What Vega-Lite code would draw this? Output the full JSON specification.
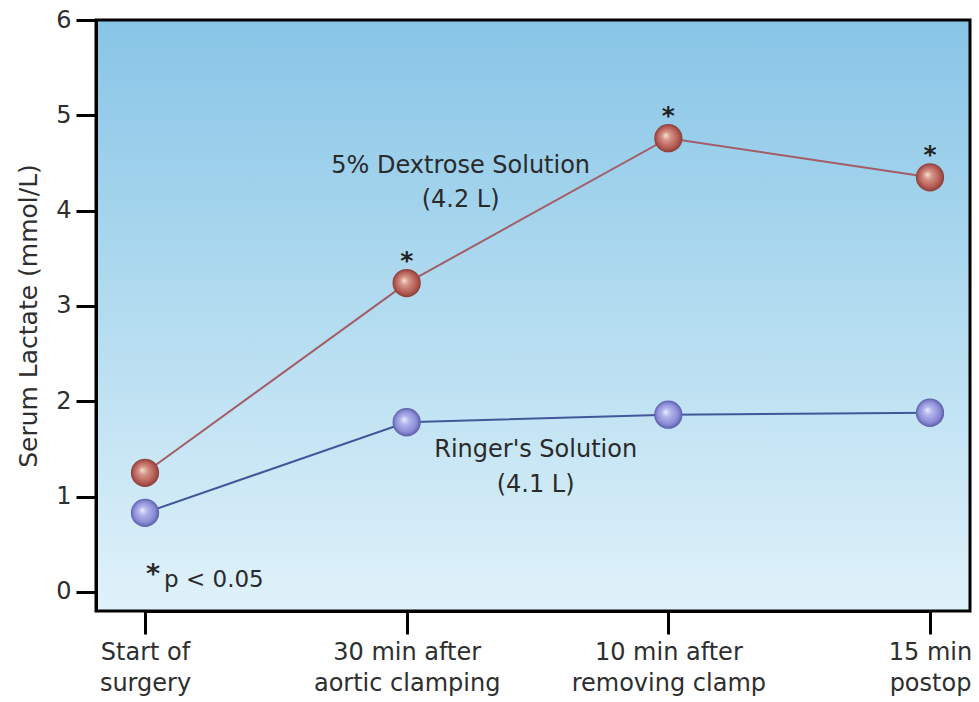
{
  "$schema": "https://vega.github.io/schema/vega-lite/v6.json",
  "width": 874,
  "height": 591,
  "autosize": "none",
  "padding": {"left": 96, "top": 20, "right": 9, "bottom": 91},
  "background": "white",
  "config": {
    "font": "DejaVu Sans",
    "view": {
      "stroke": "black",
      "strokeWidth": 3,
      "fill": {"gradient": "linear", "x1": 0, "y1": 0, "x2": 0, "y2": 1,
        "stops": [{"offset": 0, "color": "#88c5e7"}, {"offset": 0.5, "color": "#b3dcf0"}, {"offset": 1, "color": "#e0f2fa"}]}
    }
  },
  "datasets": {
    "lactate": [
      {"time": "Start of\nsurgery", "series": "5% Dextrose Solution", "value": 1.25, "sig": ""},
      {"time": "30 min after\naortic clamping", "series": "5% Dextrose Solution", "value": 3.24, "sig": "*"},
      {"time": "10 min after\nremoving clamp", "series": "5% Dextrose Solution", "value": 4.76, "sig": "*"},
      {"time": "15 min\npostop", "series": "5% Dextrose Solution", "value": 4.35, "sig": "*"},
      {"time": "Start of\nsurgery", "series": "Ringer's Solution", "value": 0.83, "sig": ""},
      {"time": "30 min after\naortic clamping", "series": "Ringer's Solution", "value": 1.78, "sig": ""},
      {"time": "10 min after\nremoving clamp", "series": "Ringer's Solution", "value": 1.86, "sig": ""},
      {"time": "15 min\npostop", "series": "Ringer's Solution", "value": 1.88, "sig": ""}
    ],
    "notes": [
      {"id": "dextrose", "time": "30 min after\naortic clamping", "value": 4.40, "label": "5% Dextrose Solution\n(4.2 L)"},
      {"id": "ringer", "time": "30 min after\naortic clamping", "value": 1.42, "label": "Ringer's Solution\n(4.1 L)"},
      {"id": "p", "time": "Start of\nsurgery", "value": 0.05, "label": "p < 0.05"},
      {"id": "pstar", "time": "Start of\nsurgery", "value": 0.05, "label": "*"}
    ]
  },
  "encoding": {
    "x": {
      "field": "time",
      "type": "ordinal",
      "sort": null,
      "scale": {"type": "point", "domain": ["Start of\nsurgery", "30 min after\naortic clamping", "10 min after\nremoving clamp", "15 min\npostop"], "range": [49, 834], "padding": 0},
      "axis": {
        "title": null,
        "labelExpr": "split(datum.label, '\\n')",
        "labelAngle": 0,
        "labelFontSize": 24,
        "labelLineHeight": 31,
        "labelLimit": 0,
        "labelColor": "#2e2e2e",
        "labelPadding": 6,
        "labelBaseline": "top",
        "tickSize": 23,
        "tickWidth": 3,
        "tickColor": "black",
        "domainColor": "black",
        "domainWidth": 3,
        "grid": false
      }
    },
    "y": {
      "field": "value",
      "type": "quantitative",
      "scale": {"domain": [-0.2, 6], "nice": false, "zero": false},
      "axis": {
        "title": "Serum Lactate (mmol/L)",
        "titleFontSize": 25,
        "titleFontWeight": "normal",
        "titleColor": "#2e2e2e",
        "titlePadding": 14,
        "values": [0, 1, 2, 3, 4, 5, 6],
        "labelFontSize": 24,
        "labelColor": "#2e2e2e",
        "labelPadding": 5,
        "tickSize": 20,
        "tickWidth": 3,
        "tickColor": "black",
        "domainColor": "black",
        "domainWidth": 3,
        "grid": false
      }
    }
  },
  "layer": [
    {
      "data": {"name": "lactate"},
      "mark": {"type": "line", "strokeWidth": 2},
      "encoding": {
        "color": {"field": "series", "type": "nominal", "scale": {"domain": ["5% Dextrose Solution", "Ringer's Solution"], "range": ["#a35d66", "#42579a"]}, "legend": null}
      }
    },
    {
      "data": {"name": "lactate"},
      "transform": [{"filter": "datum.series === '5% Dextrose Solution'"}],
      "mark": {"type": "point", "shape": "circle", "filled": true, "size": 800, "opacity": 1, "strokeWidth": 0,
        "fill": {"gradient": "radial", "x1": 0.4, "y1": 0.4, "r1": 0, "x2": 0.5, "y2": 0.5, "r2": 0.5,
          "stops": [{"offset": 0, "color": "#f3e2d2"}, {"offset": 0.3, "color": "#d69488"}, {"offset": 0.75, "color": "#b45c54"}, {"offset": 1, "color": "#8a3d39"}]}}
    },
    {
      "data": {"name": "lactate"},
      "transform": [{"filter": "datum.series === \"Ringer's Solution\""}],
      "mark": {"type": "point", "shape": "circle", "filled": true, "size": 800, "opacity": 1, "strokeWidth": 0,
        "fill": {"gradient": "radial", "x1": 0.4, "y1": 0.4, "r1": 0, "x2": 0.5, "y2": 0.5, "r2": 0.5,
          "stops": [{"offset": 0, "color": "#eeeefc"}, {"offset": 0.3, "color": "#b3b5ec"}, {"offset": 0.75, "color": "#8a8cd6"}, {"offset": 1, "color": "#5b5daa"}]}}
    },
    {
      "data": {"name": "lactate"},
      "transform": [{"filter": "datum.sig !== ''"}],
      "mark": {"type": "text", "fontSize": 25, "fontWeight": "bold", "color": "#222222", "dy": -14, "baseline": "alphabetic", "align": "center"},
      "encoding": {"text": {"field": "sig"}}
    },
    {
      "data": {"name": "notes"},
      "transform": [{"filter": "datum.id === 'dextrose'"}],
      "mark": {"type": "text", "fontSize": 24, "color": "#2a2a2a", "dx": 54, "baseline": "alphabetic", "align": "center", "lineBreak": "\n", "lineHeight": 34},
      "encoding": {"text": {"field": "label"}}
    },
    {
      "data": {"name": "notes"},
      "transform": [{"filter": "datum.id === 'ringer'"}],
      "mark": {"type": "text", "fontSize": 24, "color": "#2a2a2a", "dx": 129, "baseline": "alphabetic", "align": "center", "lineBreak": "\n", "lineHeight": 35},
      "encoding": {"text": {"field": "label"}}
    },
    {
      "data": {"name": "notes"},
      "transform": [{"filter": "datum.id === 'p'"}],
      "mark": {"type": "text", "fontSize": 23, "color": "#2a2a2a", "dx": 19, "baseline": "alphabetic", "align": "left"},
      "encoding": {"text": {"field": "label"}}
    },
    {
      "data": {"name": "notes"},
      "transform": [{"filter": "datum.id === 'pstar'"}],
      "mark": {"type": "text", "fontSize": 27, "fontWeight": "bold", "color": "#2a2a2a", "dx": 1, "dy": -4, "baseline": "alphabetic", "align": "left"},
      "encoding": {"text": {"field": "label"}}
    }
  ]
}
